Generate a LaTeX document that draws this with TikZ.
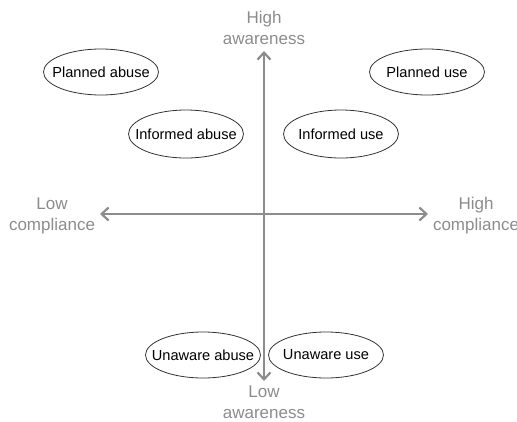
\documentclass[tikz,border=0pt]{standalone}
\usepackage{fontspec}
\setmainfont{Liberation Sans}
\usetikzlibrary{arrows.meta,shapes.geometric}
\definecolor{axisgray}{HTML}{8C8C8C}
\newcommand{\qtext}[1]{\makebox[0pt][c]{#1}}
\begin{document}
\begin{tikzpicture}[x=1pt,y=-1pt,
  quad/.style={ellipse,draw=black!80,line width=0.8pt,minimum width=115pt,minimum height=46pt,inner sep=0pt,font=\fontsize{14.6}{16}\selectfont},
  axislabel/.style={text=axisgray,align=center,inner sep=0pt,font=\fontsize{17}{21}\selectfont},
  axisline/.style={draw=axisgray,line width=2.6pt,{Straight Barb[length=7pt,width=13pt,line width=2.2pt]}-{Straight Barb[length=7pt,width=13pt,line width=2.2pt]}}]
\useasboundingbox (0,0) rectangle (517,421);
\coordinate (top) at (264,51);
\coordinate (bot) at (264,381);
\coordinate (left) at (100,214);
\coordinate (right) at (428,214);
\draw[axisline] (bot) -- (top);
\draw[axisline] (left) -- (right);
\node[axislabel] (ha) at (264,28) {High\\awareness};
\node[axislabel] (la) at (264,402) {Low\\awareness};
\node[axislabel] (lc) at (52,216) {Low\\compliance};
\node[axislabel] (hc) at (476,216) {High\\compliance};
\node[quad] (pa) at (101,72) {\qtext{Planned abuse}};
\node[quad] (pu) at (427,72) {\qtext{Planned use}};
\node[quad,minimum height=48pt] (ia) at (186,134) {\qtext{Informed abuse}};
\node[quad,minimum height=48pt] (iu) at (341,134) {\qtext{Informed use}};
\node[quad] (ua) at (203,355) {\qtext{Unaware abuse}};
\node[quad] (uu) at (326,355) {\qtext{Unaware use}};
\end{tikzpicture}
\end{document}
